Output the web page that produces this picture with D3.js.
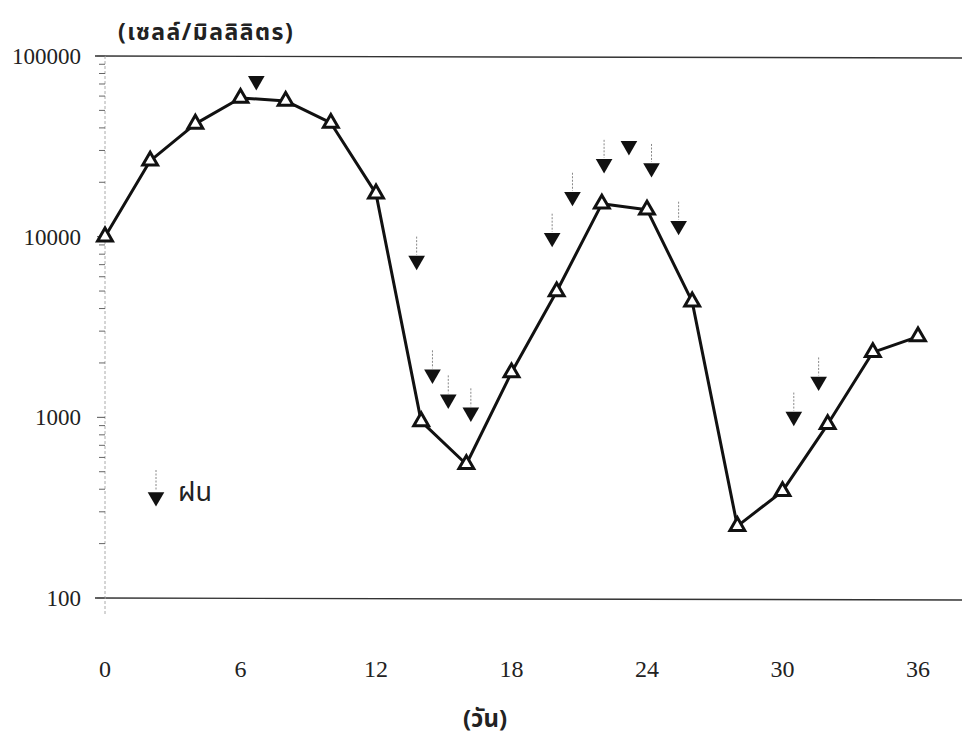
<!DOCTYPE html>
<html>
<head>
<meta charset="utf-8">
<script src="https://cdn.jsdelivr.net/npm/d3@7"></script>
<style>
    body {
        margin: 0;
        background: #fff;
    }

    .tick_label {
        font-family: "Liberation Serif", "Times New Roman", serif;
        font-size: 23px;
        fill: #222;
    }

    .thai {
        font-family: "Noto Sans Thai", "Loma", "Garuda", "Tlwg Typo", "Noto Sans", sans-serif;
        fill: #222;
    }
</style>
</head>
<body>
<div id="chart"></div>
<script>

// cell density (cells/ml) measured every 2 days
var days = [0, 2, 4, 6, 8, 10, 12, 14, 16, 18, 20, 22, 24, 26, 28, 30, 32, 34, 36];
var cells = [10000, 26300, 42100, 58600, 56400, 42600, 17300, 950, 550, 1770, 4970, 15200, 14100, 4370, 250, 390, 915, 2290, 2800];

// rain events: day and the height the marker is drawn at
var rain_days = [6.7, 13.8, 14.5, 15.2, 16.2, 19.8, 20.7, 22.1, 23.2, 24.2, 25.4, 30.5, 31.6];
var rain_level = [72800, 7370, 1730, 1257, 1066, 9870, 16630, 25300, 31800, 24000, 11500, 1010, 1580];
var rain_arrow = [false, true, true, true, true, true, true, true, false, true, true, true, true];

var x_ticks = [0, 6, 12, 18, 24, 30, 36];
var y_ticks = [100, 1000, 10000, 100000];

var y_title = "(เซลล์/มิลลิลิตร)";
var x_title = "(วัน)";
var legend_label = "ฝน";

var width = 962, height = 742;

var svg = d3.select("#chart")
    .append("svg")
    .attr("width", width)
    .attr("height", height);

var x = d3.scaleLinear().domain([0, 36]).range([105, 918]);
var y = d3.scaleLog().domain([100, 100000]).range([598, 56]);

//horizontal frame lines at top and bottom of the log range
svg.append("g")
    .selectAll("line")
    .data([100, 100000])
    .enter()
    .append("line")
    .attr("x1", 95)
    .attr("x2", width)
    .attr("y1", function (d) {
        return y(d);
    })
    .attr("y2", function (d) {
        return y(d) + 2;
    })
    .style("stroke", "#333")
    .style("stroke-width", 1.4);

//faint vertical axis with minor ticks on the left
svg.append("line")
    .attr("x1", x(0))
    .attr("x2", x(0))
    .attr("y1", y(100000))
    .attr("y2", y(100) + 18)
    .style("stroke", "#aaa")
    .style("stroke-width", 1)
    .style("stroke-dasharray", "3,2");

var minor = y.ticks().filter(function (d) {
    return y_ticks.indexOf(d) < 0;
});

svg.append("g")
    .selectAll("line")
    .data(minor)
    .enter()
    .append("line")
    .attr("x1", x(0) - 6)
    .attr("x2", x(0))
    .attr("y1", function (d) {
        return y(d);
    })
    .attr("y2", function (d) {
        return y(d);
    })
    .style("stroke", "#666")
    .style("stroke-width", 1);

svg.append("g")
    .selectAll("line")
    .data(y_ticks)
    .enter()
    .append("line")
    .attr("x1", x(0) - 8)
    .attr("x2", x(0))
    .attr("y1", function (d) {
        return y(d);
    })
    .attr("y2", function (d) {
        return y(d);
    })
    .style("stroke", "#555")
    .style("stroke-width", 1);

//tick labels
svg.append("g")
    .selectAll("text")
    .data(y_ticks)
    .enter()
    .append("text")
    .attr("class", "tick_label")
    .attr("x", 81)
    .attr("y", function (d) {
        return y(d);
    })
    .attr("dy", "0.35em")
    .attr("text-anchor", "end")
    .text(function (d) {
        return d;
    });

svg.append("g")
    .selectAll("text")
    .data(x_ticks)
    .enter()
    .append("text")
    .attr("class", "tick_label")
    .attr("x", function (d) {
        return x(d);
    })
    .attr("y", 677)
    .attr("text-anchor", "middle")
    .style("font-size", "24px")
    .text(function (d) {
        return d;
    });

//titles
svg.append("text")
    .attr("class", "thai")
    .attr("x", 118)
    .attr("y", 40)
    .style("font-size", "23px")
    .style("font-weight", "bold")
    .style("letter-spacing", "1.5px")
    .text(y_title);

svg.append("text")
    .attr("class", "thai")
    .attr("x", 485)
    .attr("y", 727)
    .attr("text-anchor", "middle")
    .style("font-size", "24px")
    .style("font-weight", "bold")
    .text(x_title);

//rain markers
var rain = rain_days.map(function (d, i) {
    return { day: d, level: rain_level[i], arrow: rain_arrow[i] };
});

var down_tri = d3.symbol().type(d3.symbolTriangle).size(120);

var rain_g = svg.append("g");

rain_g.selectAll("line")
    .data(rain.filter(function (d) {
        return d.arrow;
    }))
    .enter()
    .append("line")
    .attr("x1", function (d) {
        return x(d.day);
    })
    .attr("x2", function (d) {
        return x(d.day);
    })
    .attr("y1", function (d) {
        return y(d.level) - 24;
    })
    .attr("y2", function (d) {
        return y(d.level) - 6;
    })
    .style("stroke", "#888")
    .style("stroke-width", 1)
    .style("stroke-dasharray", "2,1.5");

rain_g.selectAll("path")
    .data(rain)
    .enter()
    .append("path")
    .attr("d", down_tri)
    .attr("transform", function (d) {
        return "translate(" + x(d.day) + "," + y(d.level) + ") rotate(180)";
    })
    .style("fill", "#111");

//main series line
var line = d3.line()
    .x(function (d, i) {
        return x(days[i]);
    })
    .y(function (d) {
        return y(d);
    });

svg.append("path")
    .datum(cells)
    .attr("d", line)
    .style("fill", "none")
    .style("stroke", "#111")
    .style("stroke-width", 3)
    .style("stroke-linejoin", "round");

var up_tri = d3.symbol().type(d3.symbolTriangle).size(95);

svg.append("g")
    .selectAll("path")
    .data(cells)
    .enter()
    .append("path")
    .attr("d", up_tri)
    .attr("transform", function (d, i) {
        return "translate(" + x(days[i]) + "," + y(d) + ")";
    })
    .style("fill", "#fff")
    .style("stroke", "#111")
    .style("stroke-width", 3)
    .style("stroke-linejoin", "miter");

//legend
var legend = svg.append("g").attr("transform", "translate(156,497)");

legend.append("line")
    .attr("x1", 0)
    .attr("x2", 0)
    .attr("y1", -27)
    .attr("y2", -7)
    .style("stroke", "#888")
    .style("stroke-width", 1)
    .style("stroke-dasharray", "2,1.5");

legend.append("path")
    .attr("d", down_tri)
    .attr("transform", "rotate(180)")
    .style("fill", "#111");

legend.append("text")
    .attr("class", "thai")
    .attr("x", 22)
    .attr("y", 4)
    .style("font-size", "27px")
    .text(legend_label);

</script>
</body>
</html>
